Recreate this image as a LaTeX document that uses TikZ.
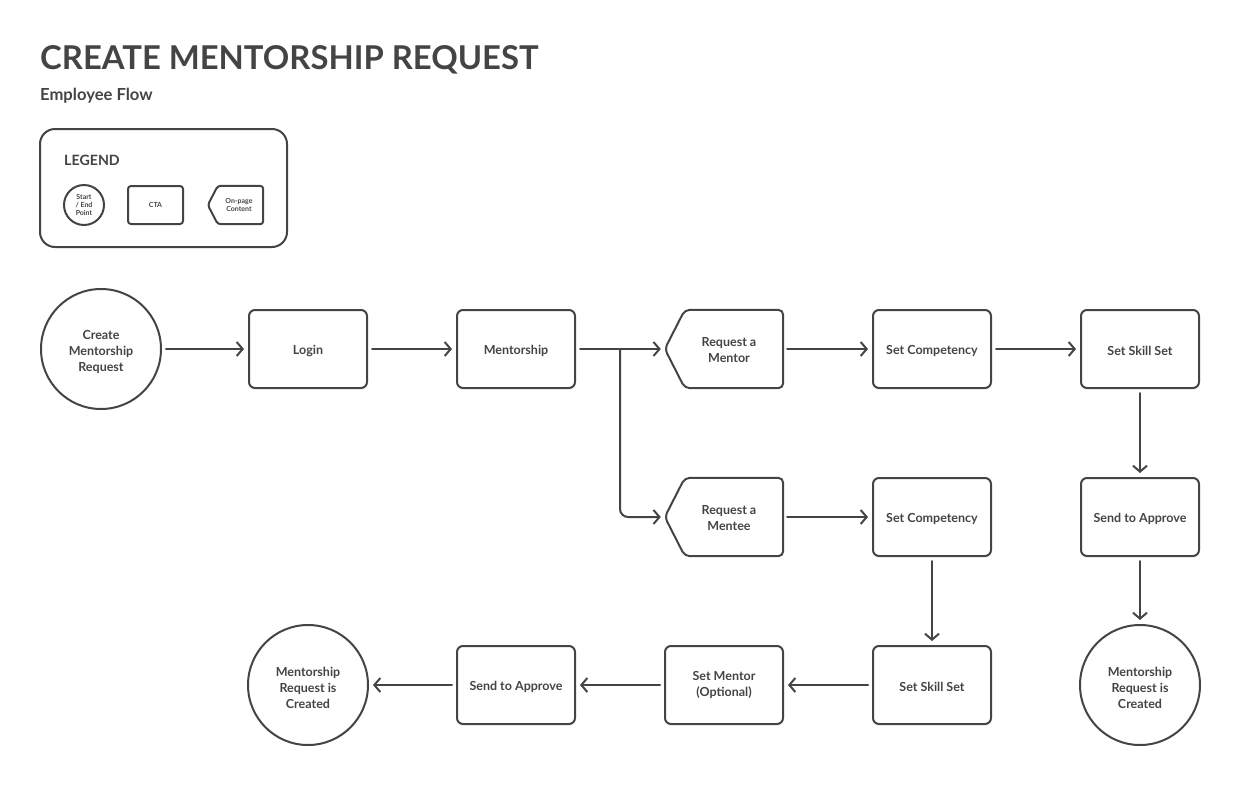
\documentclass[tikz,border=0pt]{standalone}
\usepackage{fontspec}
\setmainfont{Lato}
\usetikzlibrary{arrows.meta}
\definecolor{ink}{HTML}{444444}
\tikzset{
  base/.style={draw=ink, line width=2pt, text=ink, font=\fontsize{12.5}{16}\selectfont\bfseries, align=center, inner sep=0pt, execute at begin node={\rule{0pt}{14pt}}},
  cta/.style={base, rectangle, rounded corners=6pt, minimum width=118pt, minimum height=78pt},
  endpt/.style={draw=ink, line width=2pt, circle, minimum size=120pt, inner sep=0pt},
  pagebox/.style={rectangle, minimum width=118pt, minimum height=78pt, inner sep=0pt},
  pageshape/.style={draw=ink, line width=2pt, rounded corners=5pt},
  lbl/.style={text=ink, font=\fontsize{12.5}{16}\selectfont\bfseries, align=center, inner sep=0pt},
  flow/.style={draw=ink, line width=2pt, -{Straight Barb[length=6pt,width=14pt,line width=2pt]}, line cap=round, line join=round, shorten >=4pt, shorten <=4pt},
  small/.style={text=ink, font=\fontsize{7}{8}\selectfont\bfseries, align=center, inner sep=0pt},
}
\begin{document}
\begin{tikzpicture}[x=1pt,y=-1pt]
\useasboundingbox (0,0) rectangle (1240,793);
% titles
\node[anchor=base west, inner sep=0pt, text=ink, font=\fontsize{32.8}{38}\selectfont\bfseries] (title) at (40,69) {CREATE MENTORSHIP REQUEST};
\node[anchor=west, inner sep=0pt, text=ink, font=\fontsize{16.6}{19}\selectfont\bfseries] (sub) at (40,96) {Employee Flow};
% legend
\node[draw=ink, line width=2pt, rounded corners=15pt, minimum width=247pt, minimum height=118pt, inner sep=0pt] (legend) at (163.5,188) {};
\node[anchor=west, inner sep=0pt, text=ink, font=\fontsize{14.2}{16}\selectfont\bfseries] (legt) at (64,160) {LEGEND};
\node[small, draw=ink, line width=2pt, circle, minimum size=40pt] (lc) at (84,205) {Start\\/ End\\Point};
\node[small, draw=ink, line width=2pt, rounded corners=3pt, minimum width=55pt, minimum height=38pt] (lr) at (155.5,205) {CTA};
\node[rectangle, minimum width=55pt, minimum height=38pt, inner sep=0pt] (lp) at (235.5,205) {};
\draw[pageshape, rounded corners=3pt] ([xshift=10pt]lp.north west) -- (lp.north east) -- (lp.south east) -- ([xshift=10pt]lp.south west) -- (lp.west) -- cycle;
\node[small] (lpt) at (239,205) {On-page\\Content};
% row 1
\node[endpt] (start) at (101,349) {};
\node[lbl] (startt) at (101,351.5) {Create\\Mentorship\\Request};
\node[cta] (login) at (308,349) {Login};
\node[cta] (ment) at (516,349) {Mentorship};
\node[pagebox] (reqmr) at (724,349) {};
\draw[pageshape] ([xshift=20pt]reqmr.north west) -- (reqmr.north east) -- (reqmr.south east) -- ([xshift=20pt]reqmr.south west) -- (reqmr.west) -- cycle;
\node[lbl] (reqmrt) at (729,350) {Request a\\Mentor};
\node[cta] (comp1) at (932,349) {Set Competency};
\node[cta] (skill1) at (1140,349) {Set Skill Set};
% row 2
\node[pagebox] (reqme) at (724,517) {};
\draw[pageshape] ([xshift=20pt]reqme.north west) -- (reqme.north east) -- (reqme.south east) -- ([xshift=20pt]reqme.south west) -- (reqme.west) -- cycle;
\node[lbl] (reqmet) at (729,518) {Request a\\Mentee};
\node[cta] (comp2) at (932,517) {Set Competency};
\node[cta] (send1) at (1140,517) {Send to Approve};
% row 3
\node[cta] (skill2) at (932,685) {Set Skill Set};
\node[cta] (mentor) at (724,685) {Set Mentor\\(Optional)};
\node[cta] (send2) at (516,685) {Send to Approve};
\node[endpt] (end2) at (308,685) {};
\node[lbl] (end2t) at (308,687.5) {Mentorship\\Request is\\Created};
\node[endpt] (end1) at (1140,685) {};
\node[lbl] (end1t) at (1140,687.5) {Mentorship\\Request is\\Created};
% connectors
\draw[flow] (start) -- (login);
\draw[flow] (login) -- (ment);
\draw[flow] (ment) -- (reqmr.west);
\coordinate (br) at (620,349);
\draw[flow, rounded corners=8pt, shorten <=0pt] (br) |- (reqme.west);
\draw[flow] (reqmr) -- (comp1);
\draw[flow] (comp1) -- (skill1);
\draw[flow] (skill1) -- (send1);
\draw[flow] (send1) -- (end1);
\draw[flow] (reqme) -- (comp2);
\draw[flow] (comp2) -- (skill2);
\draw[flow] (skill2) -- (mentor);
\draw[flow] (mentor) -- (send2);
\draw[flow] (send2) -- (end2);
\end{tikzpicture}
\end{document}
